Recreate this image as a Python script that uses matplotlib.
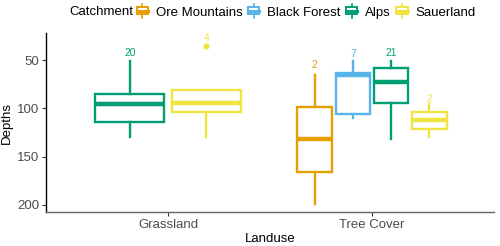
import matplotlib
matplotlib.use("Agg")
import matplotlib.pyplot as plt
from matplotlib.patches import Rectangle, Patch
from matplotlib.lines import Line2D
from matplotlib.legend_handler import HandlerBase

plt.rcParams['font.family'] = ['Liberation Sans', 'DejaVu Sans']

# data
landuse = ["Grassland", "Tree Cover"]
catchments = ["Ore Mountains", "Black Forest", "Alps", "Sauerland"]
colors = {"Ore Mountains": "#E69F00", "Black Forest": "#56B4E9",
          "Alps": "#009E73", "Sauerland": "#F0E442"}

# per landuse: (catchment, whislo, q1, median, q3, whishi, fliers, n, label_y)
grass_stats = [
    ("Alps", 50.7, 84.6, 95.0, 114.5, 130.0, [], 20, 42.4),
    ("Sauerland", 80.5, 80.5, 94.4, 104.0, 130.0, [35.1], 4, 27.4),
]
tree_stats = [
    ("Ore Mountains", 65.0, 99.0, 132.0, 166.0, 199.0, [], 2, 55.2),
    ("Black Forest", 50.7, 63.8, 65.0, 106.0, 109.6, [], 7, 44.0),
    ("Alps", 50.7, 58.0, 72.5, 94.4, 131.5, [], 21, 43.0),
    ("Sauerland", 95.0, 103.6, 112.4, 121.0, 130.0, [], 2, 89.8),
]
groups = [grass_stats, tree_stats]

fs = 9.5

fig = plt.figure(figsize=(5.0, 2.46), dpi=100)
ax = fig.add_axes([0.0914, 0.138, 0.9886 - 0.0914, 0.8646 - 0.138])

dodge = 0.75
for gi, stats in enumerate(groups):
    n = len(stats)
    slot = dodge / n
    for i, (cat, lo, q1, med, q3, hi, fl, cnt, ly) in enumerate(stats):
        pos = gi + 1 + (i - (n - 1) / 2) * slot
        c = colors[cat]
        st = dict(whislo=lo, q1=q1, med=med, q3=q3, whishi=hi, fliers=fl)
        ax.bxp([st], positions=[pos], widths=[slot * 0.9], patch_artist=True,
               showcaps=False, manage_ticks=False,
               boxprops=dict(facecolor="white", edgecolor=c, linewidth=1.7),
               whiskerprops=dict(color=c, linewidth=1.7),
               medianprops=dict(color=c, linewidth=3.2, solid_capstyle="butt"),
               flierprops=dict(marker="o", markersize=3.4, markerfacecolor=c,
                               markeredgecolor=c))
        ax.text(pos, ly, str(cnt), color=c, fontsize=7.4,
                ha="center", va="center")

ax.set_xlim(0.4, 2.6)
ax.set_ylim(207.5, 22.2)
ax.set_xticks([1, 2])
ax.set_xticklabels(landuse)
ax.set_yticks([50, 100, 150, 200])
ax.tick_params(axis="both", colors="#333333", labelcolor="#4D4D4D",
               labelsize=fs, length=2.8, width=0.8, pad=2)
for s in ["top", "right"]:
    ax.spines[s].set_visible(False)
ax.spines["left"].set_color("black")
ax.spines["bottom"].set_color("#666666")
ax.spines["left"].set_linewidth(1.0)
ax.spines["bottom"].set_linewidth(1.0)
ax.set_xlabel("Landuse", fontsize=fs, labelpad=2)
ax.set_ylabel("Depths", fontsize=fs, labelpad=3)


class BoxKey(HandlerBase):
    def create_artists(self, legend, orig_handle, xdescent, ydescent,
                       width, height, fontsize, trans):
        c = orig_handle.get_edgecolor()
        x0, y0 = -xdescent, -ydescent
        cx = x0 + width / 2
        arts = [
            Line2D([cx, cx], [y0 - 1, y0 + height + 1], color=c, lw=1.2,
                   transform=trans),
            Rectangle((x0, y0 + height * 0.18), width, height * 0.64,
                      facecolor="white", edgecolor=c, lw=1.4, transform=trans),
            Line2D([x0, x0 + width], [y0 + height / 2] * 2, color=c, lw=2.2,
                   transform=trans),
        ]
        return arts


handles = [Patch(edgecolor=colors[k], facecolor="white") for k in catchments]
fig.text(69 / 500, 1 - 12 / 246, "Catchment", fontsize=fs, va="center",
         ha="left")
fig.legend(handles, catchments, loc="center left",
           bbox_to_anchor=(136.7 / 500, 1 - 12 / 246), ncol=4, frameon=False,
           fontsize=fs, handler_map={Patch: BoxKey()}, handlelength=0.86,
           handleheight=0.9, handletextpad=0.6, columnspacing=0.4,
           borderpad=0, borderaxespad=0)

fig.savefig("out.png", dpi=100)
